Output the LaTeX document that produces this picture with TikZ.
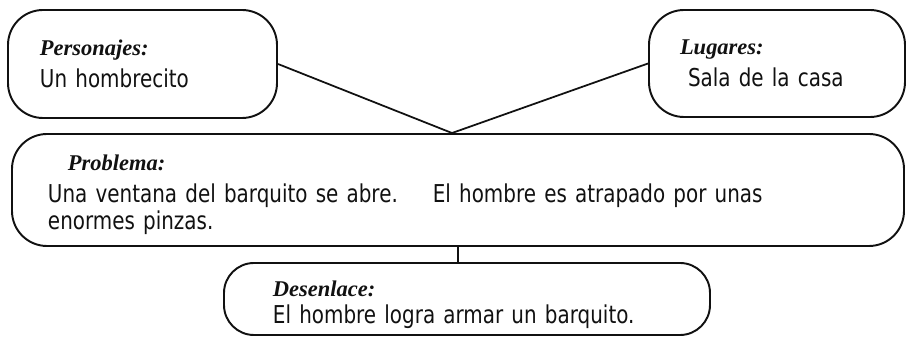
\documentclass[tikz,border=0pt]{standalone}
\usepackage{fontspec}
\usepackage{tikz}
\usetikzlibrary{positioning,calc}
\newfontfamily\bodyfont[FakeStretch=0.81]{DejaVu Sans}
\newfontfamily\headfont{Liberation Serif}
\definecolor{ink}{HTML}{111111}
\newcommand{\hd}[1]{{\headfont\bfseries\itshape\fontsize{12.8pt}{14pt}\selectfont #1}}
\tikzset{
  box/.style={draw=ink,line width=1.1pt,rounded corners=7mm,align=left,text=ink,
    font={\bodyfont\fontsize{14pt}{15.6pt}\selectfont}},
  ln/.style={draw=ink,line width=1pt},
}
\begin{document}
\begin{tikzpicture}[x=1mm,y=1mm]
  \useasboundingbox (0,0) rectangle (181.2,-67.4);
  % boxes
  \node[box,inner xsep=6.4mm,text width=41mm,minimum height=21.6mm] (pers) at (28.5,-12.8)
    {\hd{Personajes:}\\[1mm]Un hombrecito};
  \node[box,inner xsep=6.2mm,text width=38.8mm,minimum height=21.4mm] (lug) at (155.4,-12.7)
    {\hd{Lugares:}\\[1mm]\hspace{1.6mm}Sala de la casa};
  \node[box,inner xsep=7.2mm,text width=164mm,minimum height=22.4mm] (prob) at (91.6,-38)
    {\rule{0pt}{5mm}\hspace{4mm}\hd{Problema:}\\[1mm]Una ventana del barquito se abre.\hspace{7mm}El hombre es atrapado por unas\\enormes pinzas.};
  \node[box,rounded corners=6mm,inner xsep=9.8mm,text width=77.6mm,minimum height=14.4mm] (des) at (93.4,-59.8)
    {\rule{0pt}{5.5mm}\hd{Desenlace:}\\El hombre logra armar un barquito.};
  % connectors
  \coordinate (apex) at ([xshift=-1.2mm]prob.north);
  \draw[ln] (pers.east) -- (apex) -- (lug.west);
  \draw[ln] (prob.south) -- (prob.south |- des.north);
\end{tikzpicture}
\end{document}
